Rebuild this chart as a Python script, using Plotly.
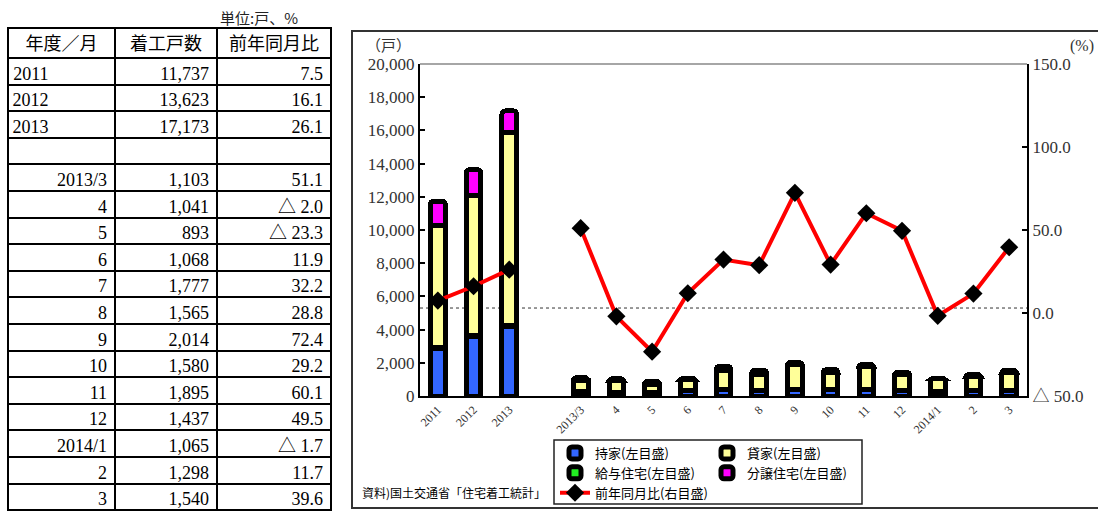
import plotly.graph_objects as go

# ---------------- data ----------------
categories = ['2011', '2012', '2013', ' ', '2013/3', '4', '5', '6', '7', '8', '9',
              '10', '11', '12', '2014/1', '2', '3']
total_starts = [11737, 13623, 17173, None, 1103, 1041, 893, 1068, 1777, 1565, 2014,
                1580, 1895, 1437, 1065, 1298, 1540]
yoy_change = [7.5, 16.1, 26.1, None, 51.1, -2.0, -23.3, 11.9, 32.2, 28.8, 72.4,
              29.2, 60.1, 49.5, -1.7, 11.7, 39.6]
owner_occupied = [2870, 3560, 4160, None, 260, 210, 210, 314, 410, 314, 375, 410, 390,
                  320, 270, 350, 325]
company_housing = [80, 60, 100, None, 5, 5, 5, 5, 5, 5, 5, 5, 5, 5, 5, 5, 5]
rental = [7340, 8430, 11600, None, 650, 740, 500, 700, 1147, 1000, 1507, 1008, 1390,
          975, 760, 850, 1110]
for_sale = [1447, 1573, 1313, None, 188, 86, 178, 49, 215, 246, 127, 157, 110, 137,
            30, 93, 100]

table_header = ['年度／月', '着工戸数', '前年同月比']
left_ticks = [0, 2000, 4000, 6000, 8000, 10000, 12000, 14000, 16000, 18000, 20000]
right_ticks = [-50, 0, 50, 100, 150]
right_ticktext = ['△ 50.0', '0.0', '50.0', '100.0', '150.0']

W, H = 1098, 513
PL, PR, PT, PB = 420, 1027, 64, 396   # plot area in page pixels


def px(x):
    return x / W


def py(y):
    return (H - y) / H


SERIF = 'Liberation Serif, Noto Sans CJK JP'
SANS = 'Noto Sans CJK JP'

fig = go.Figure()

bar_specs = [
    ('持家(左目盛)', owner_occupied, '#3366FF', 'legend'),
    ('給与住宅(左目盛)', company_housing, '#22EE22', 'legend'),
    ('貸家(左目盛)', rental, '#FFFF99', 'legend2'),
    ('分譲住宅(左目盛)', for_sale, '#FF00FF', 'legend2'),
]
for name, vals, col, lg in bar_specs:
    fig.add_trace(go.Bar(
        x=categories, y=vals, name=name, width=0.41,
        marker=dict(color=col, line=dict(color='black', width=5)),
        legend=lg, hoverinfo='skip'))

fig.add_trace(go.Scatter(
    x=categories, y=yoy_change, name='前年同月比(右目盛)', yaxis='y2',
    mode='lines+markers', connectgaps=False,
    line=dict(color='#FF0000', width=4),
    marker=dict(symbol='diamond', size=14, color='black'),
    legend='legend', hoverinfo='skip'))

# ---------------- table ----------------
NB = '\u00a0'
# annual rows are shown flush left: pad them with non-breaking spaces
col_period = [c + NB * 13 for c in categories[:3]] + [''] + categories[4:]
col_starts = ['' if v is None else f'{v:,}' for v in total_starts]
col_yoy = ['' if v is None else (f'△{NB}{abs(v):.1f}' if v < 0 else f'{v:.1f}')
           for v in yoy_change]

fig.add_trace(go.Table(
    domain=dict(x=[px(8), px(331)], y=[0, py(28)]),
    columnwidth=[107, 102, 114],
    header=dict(values=table_header, height=30, align='center',
                font=dict(family=SERIF, size=18, color='black'),
                line=dict(color='black', width=2), fill=dict(color='white')),
    cells=dict(values=[col_period, col_starts, col_yoy], height=26.6,
               align='right',
               font=dict(family=SERIF, size=18, color='black'),
               line=dict(color='black', width=2), fill=dict(color='white')),
))

# ---------------- layout ----------------
fig.update_layout(
    width=W, height=H, autosize=False,
    margin=dict(l=0, r=0, t=0, b=0, pad=0, autoexpand=False),
    paper_bgcolor='white', plot_bgcolor='white',
    barmode='stack', barcornerradius=3,
    font=dict(family=SERIF, color='#222'),
    xaxis=dict(domain=[px(PL), px(PR)], type='category', categoryorder='array',
               categoryarray=categories, range=[-0.5, len(categories) - 0.5],
               showline=True, linecolor='black', linewidth=2,
               ticks='', tickangle=-45, tickfont=dict(size=12, family=SERIF, color='#333'),
               showgrid=False, zeroline=False, fixedrange=True),
    yaxis=dict(domain=[py(PB), py(PT)], range=[0, 20000], tickvals=left_ticks,
               tickformat=',', showline=True, linecolor='black', linewidth=2,
               ticks='inside', ticklen=5, tickwidth=2, tickcolor='black',
               tickfont=dict(size=17, family=SERIF, color='#333'),
               showgrid=False, zeroline=False, fixedrange=True),
    yaxis2=dict(range=[-50, 150], tickvals=right_ticks, ticktext=right_ticktext,
                overlaying='y', side='right', anchor='x',
                showline=True, linecolor='black', linewidth=2,
                ticks='inside', ticklen=5, tickwidth=2, tickcolor='black',
                tickfont=dict(size=17, family=SERIF, color='#333'),
                showgrid=False, zeroline=False, fixedrange=True),
    legend=dict(x=px(555), y=py(438), xanchor='left', yanchor='top',
                bgcolor='rgba(0,0,0,0)', font=dict(family=SANS, size=13, color='black'),
                traceorder='normal'),
    legend2=dict(x=px(707), y=py(438), xanchor='left', yanchor='top',
                 bgcolor='rgba(0,0,0,0)', font=dict(family=SANS, size=13, color='black'),
                 traceorder='normal'),
    showlegend=True,
)

shapes = [
    # outer frame of chart
    dict(type='rect', xref='paper', yref='paper', x0=px(352), x1=px(1101),
         y0=py(508), y1=py(31), line=dict(color='#333', width=2), layer='below'),
    # top border of plot area
    dict(type='line', xref='x domain', yref='y domain', x0=0, x1=1, y0=1, y1=1,
         line=dict(color='#888', width=1.5)),
    # dotted reference line
    dict(type='line', xref='x domain', yref='y2', x0=0, x1=1, y0=3, y1=3,
         line=dict(color='#333', width=1, dash='dot'), layer='below'),
    # legend box
    dict(type='rect', xref='paper', yref='paper', x0=px(554), x1=px(862),
         y0=py(504), y1=py(440), line=dict(color='#222', width=1.5)),
]
fig.update_layout(shapes=shapes)

annotations = [
    dict(text='単位:戸、%', x=px(300), y=py(17), xref='paper', yref='paper',
         xanchor='right', yanchor='middle', showarrow=False,
         font=dict(family=SANS, size=15, color='#222')),
    dict(text='（戸）', x=px(388), y=py(46), xref='paper', yref='paper',
         xanchor='center', yanchor='middle', showarrow=False,
         font=dict(family=SERIF, size=15, color='#333')),
    dict(text='(%)', x=px(1096), y=py(46), xref='paper', yref='paper',
         xanchor='right', yanchor='middle', showarrow=False,
         font=dict(family=SERIF, size=16, color='#333')),
    dict(text='資料)国土交通省「住宅着工統計」', x=px(360), y=py(492), xref='paper',
         yref='paper', xanchor='left', yanchor='middle', showarrow=False,
         font=dict(family=SANS, size=12, color='black')),
]
fig.update_layout(annotations=annotations)

fig.write_html('out.html')
